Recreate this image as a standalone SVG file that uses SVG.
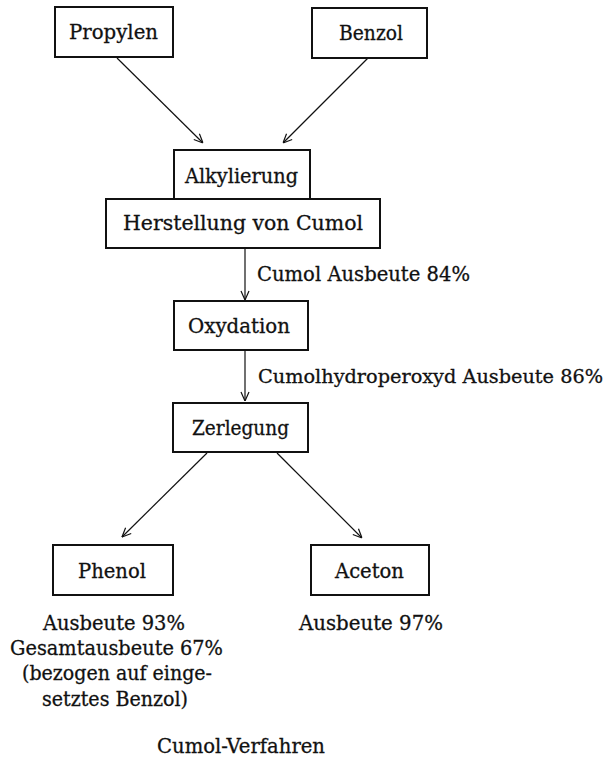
<svg xmlns="http://www.w3.org/2000/svg" width="613" height="761" viewBox="0 0 613 761">
<style>
.box{fill:#fff;stroke:#111;stroke-width:2}
.t{font-family:"DejaVu Serif","Liberation Serif",serif;font-size:20px;fill:#111;stroke:#111;stroke-width:0.3}
.c{fill:none;stroke:#111;stroke-width:1.2}
</style>
<defs>
<marker id="arr" viewBox="0 0 10 10" refX="10" refY="5" markerWidth="10" markerHeight="10" orient="auto" markerUnits="userSpaceOnUse">
<path d="M1,1 L10,5 L1,9" fill="none" stroke="#111" stroke-width="1.2"/>
</marker>
</defs>
<rect width="613" height="761" fill="#fff"/>
<g id="connectors">
<line class="c" x1="117" y1="58" x2="203" y2="143" marker-end="url(#arr)"/>
<line class="c" x1="368" y1="58" x2="283" y2="143" marker-end="url(#arr)"/>
<line class="c" x1="245" y1="248" x2="245" y2="300" marker-end="url(#arr)"/>
<line class="c" x1="245" y1="350" x2="245" y2="401" marker-end="url(#arr)"/>
<line class="c" x1="207" y1="453" x2="122" y2="537" marker-end="url(#arr)"/>
<line class="c" x1="277" y1="453" x2="362" y2="538" marker-end="url(#arr)"/>
</g>
<g id="propylen">
<rect class="box" x="55" y="7" width="118" height="50"/>
<text class="t" x="69" y="39" textLength="89" lengthAdjust="spacingAndGlyphs">Propylen</text>
</g>
<g id="benzol">
<rect class="box" x="312" y="8" width="115" height="50"/>
<text class="t" x="339" y="40" textLength="64" lengthAdjust="spacingAndGlyphs">Benzol</text>
</g>
<g id="alkylierung">
<rect class="box" x="174" y="150" width="136" height="49"/>
<text class="t" x="185" y="183" textLength="113" lengthAdjust="spacingAndGlyphs">Alkylierung</text>
</g>
<g id="herstellung">
<rect class="box" x="106" y="199" width="274" height="49"/>
<text class="t" x="123" y="230" textLength="240" lengthAdjust="spacingAndGlyphs">Herstellung von Cumol</text>
</g>
<g id="label1">
<text class="t" x="257" y="281" textLength="213" lengthAdjust="spacingAndGlyphs">Cumol Ausbeute 84%</text>
</g>
<g id="oxydation">
<rect class="box" x="174" y="301" width="134" height="49"/>
<text class="t" x="188" y="333" textLength="102" lengthAdjust="spacingAndGlyphs">Oxydation</text>
</g>
<g id="label2">
<text class="t" x="258" y="383" font-size="19" style="font-size:19px" textLength="345" lengthAdjust="spacingAndGlyphs">Cumolhydroperoxyd Ausbeute 86%</text>
</g>
<g id="zerlegung">
<rect class="box" x="173" y="403" width="135" height="49"/>
<text class="t" x="192" y="435" textLength="97" lengthAdjust="spacingAndGlyphs">Zerlegung</text>
</g>
<g id="phenol">
<rect class="box" x="53" y="545" width="120" height="50"/>
<text class="t" x="78" y="578" textLength="68" lengthAdjust="spacingAndGlyphs">Phenol</text>
</g>
<g id="aceton">
<rect class="box" x="311" y="545" width="118" height="50"/>
<text class="t" x="335" y="578" textLength="69" lengthAdjust="spacingAndGlyphs">Aceton</text>
</g>
<g id="phenol-notes">
<text class="t" x="43" y="630" textLength="142" lengthAdjust="spacingAndGlyphs">Ausbeute 93%</text>
<text class="t" x="10" y="655" textLength="213" lengthAdjust="spacingAndGlyphs">Gesamtausbeute 67%</text>
<text class="t" x="22" y="680" textLength="190" lengthAdjust="spacingAndGlyphs">(bezogen auf einge-</text>
<text class="t" x="42" y="706" textLength="146" lengthAdjust="spacingAndGlyphs">setztes Benzol)</text>
</g>
<g id="aceton-notes">
<text class="t" x="299" y="630" textLength="144" lengthAdjust="spacingAndGlyphs">Ausbeute 97%</text>
</g>
<g id="caption">
<text class="t" x="157" y="753" textLength="168" lengthAdjust="spacingAndGlyphs">Cumol-Verfahren</text>
</g>
</svg>
